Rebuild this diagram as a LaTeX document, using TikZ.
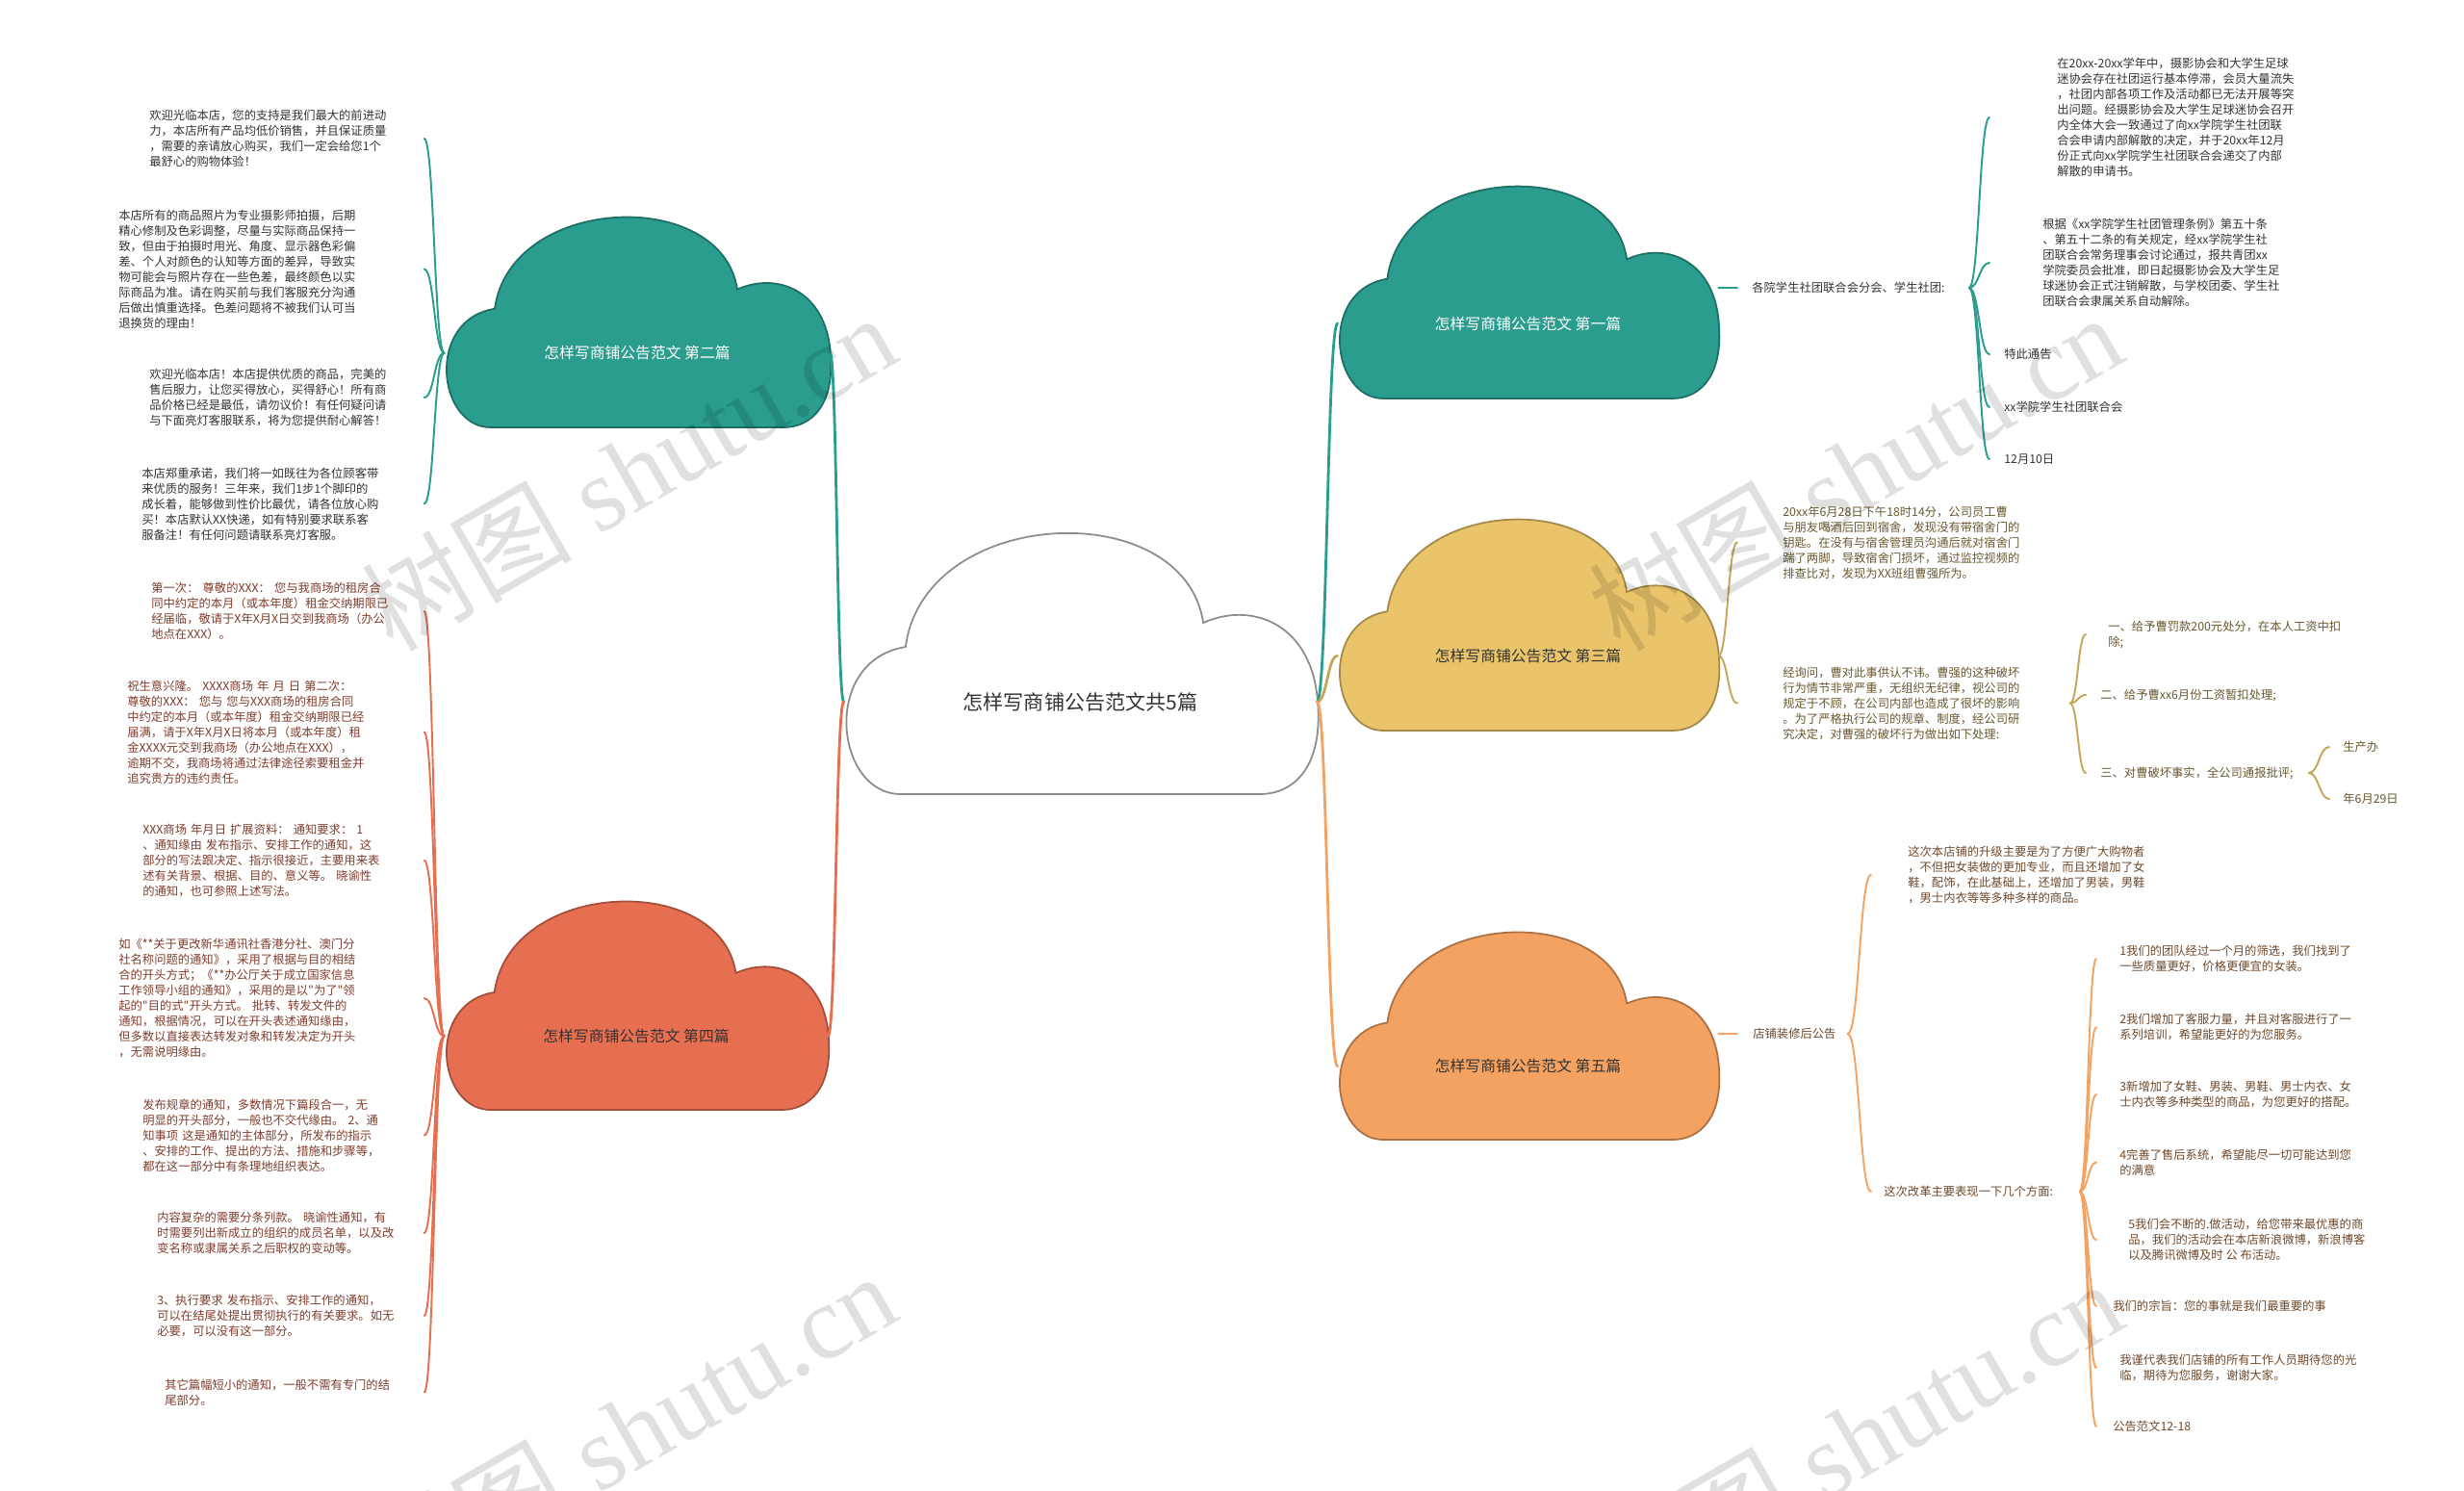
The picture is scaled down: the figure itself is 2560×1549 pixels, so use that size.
\documentclass[tikz,border=0pt]{standalone}
\usepackage{fontspec}
\usepackage{xcolor}
\usetikzlibrary{calc,positioning}
\newfontfamily\cjk{Noto Sans CJK SC}
\newfontfamily\wmfont{Liberation Serif}
\definecolor{sea}{HTML}{2A9D8F}
\definecolor{sand}{HTML}{E9C46A}
\definecolor{peach}{HTML}{F4A261}
\definecolor{brick}{HTML}{E76F51}
\colorlet{ink}{black!80}
\tikzset{
  note/.style={font=\cjk\fontsize{7}{9.1}\selectfont, inner sep=0pt, align=left, anchor=west},
  tag/.style={font=\cjk\fontsize{9}{11}\selectfont, inner sep=0pt},
  twig/.style={line width=1.1pt, line cap=round},
  sea cloud/.style={fill=sea, draw=sea!70!black},
  sand cloud/.style={fill=sand, draw=sand!70!black},
  peach cloud/.style={fill=peach, draw=peach!70!black},
  brick cloud/.style={fill=brick, draw=brick!70!black},
  plain cloud/.style={fill=white, draw=black!45},
  sea tag/.style={tag, text=white},
  sand tag/.style={tag, text=ink},
  peach tag/.style={tag, text=ink},
  brick tag/.style={tag, text=ink},
  plain tag/.style={tag, text=ink, font=\cjk\fontsize{12}{14}\selectfont},
  wmark/.style={text=black, opacity=0.12, rotate=30, inner sep=0pt, font=\wmfont\fontsize{62}{62}\selectfont}
}
% cloud: name, left, top, width, height, kind, text
\newcommand\cloudy[7]{%
  \filldraw[#6 cloud, line width=1pt, shift={(#2,#3)}, xscale=#4, yscale=#5]
    (0.12,1) .. controls (-0.02,1) and (-0.05,0.5) .. (0.13,0.45)
    .. controls (0.17,-0.08) and (0.72,-0.12) .. (0.76,0.36)
    .. controls (0.86,0.28) and (0.98,0.36) .. (1,0.62)
    .. controls (1.02,0.9) and (0.95,1) .. (0.88,1) -- cycle;
  \node[#6 tag, minimum width=#4*0.2mm] (#1) at (#2+#4/2,#3+0.655*#5) {#7};}
% branch: [gap before target] colour, from, to
\newcommand\twig[4][0mm]{%
  \path (#3) coordinate (tw-a) ([xshift=-#1]#4) coordinate (tw-b);
  \draw[twig, #2] (tw-a) .. controls ($(tw-a)!.5!(tw-a -| tw-b)$) and ($(tw-b)!.5!(tw-b -| tw-a)$) .. (tw-b);}

\begin{document}
\begin{tikzpicture}[x=0.2mm, y=-0.2mm]
  \useasboundingbox (0,0) rectangle (2560,1549);
  \fill[white] (0,0) rectangle (2560,1549);

  \cloudy{m}{877}{547}{491}{278}{plain}{怎样写商铺公告范文共5篇}
  \cloudy{c2}{462}{220}{400}{224}{sea}{怎样写商铺公告范文 第二篇}
  \cloudy{c4}{462}{931}{398}{222}{brick}{怎样写商铺公告范文 第四篇}
  \cloudy{c1}{1390}{188}{395}{226}{sea}{怎样写商铺公告范文 第一篇}
  \cloudy{c3}{1390}{534}{395}{225}{sand}{怎样写商铺公告范文 第三篇}
  \cloudy{c5}{1390}{963}{395}{221}{peach}{怎样写商铺公告范文 第五篇}

  \twig{sea, line width=1.6pt}{m.west}{c2.east}
  \twig{brick, line width=1.6pt}{m.west}{c4.east}
  \twig{sea, line width=1.6pt}{m.east}{c1.west}
  \twig{sand!85!black, line width=1.6pt}{m.east}{c3.west}
  \twig{peach, line width=1.6pt}{m.east}{c5.west}

  % second part
  \begin{scope}[every node/.append style={text=ink}]
  \node[note, text width=57mm] (l1) at (155,144) {欢迎光临本店，您的支持是我们最大的前进动\\力，本店所有产品均低价销售，并且保证质量\\，需要的亲请放心购买，我们一定会给您1个\\最舒心的购物体验！};
  \node[note, text width=63.4mm] (l2) at (123,279.5) {本店所有的商品照片为专业摄影师拍摄，后期\\精心修制及色彩调整，尽量与实际商品保持一\\致，但由于拍摄时用光、角度、显示器色彩偏\\差、个人对颜色的认知等方面的差异，导致实\\物可能会与照片存在一些色差，最终颜色以实\\际商品为准。请在购买前与我们客服充分沟通\\后做出慎重选择。色差问题将不被我们认可当\\退换货的理由！};
  \node[note, text width=57mm] (l3) at (155,413) {欢迎光临本店！本店提供优质的商品，完美的\\售后服力，让您买得放心，买得舒心！所有商\\品价格已经是最低，请勿议价！有任何疑问请\\与下面亮灯客服联系，将为您提供耐心解答！};
  \node[note, text width=58.6mm] (l4) at (147,523.5) {本店郑重承诺，我们将一如既往为各位顾客带\\来优质的服务！三年来，我们1步1个脚印的\\成长着，能够做到性价比最优，请各位放心购\\买！本店默认XX快递，如有特别要求联系客\\服备注！有任何问题请联系亮灯客服。};
  \end{scope}
  \foreach \n in {l1,l2,l3,l4} \twig{sea}{c2.west}{\n.east};

  % fourth part
  \begin{scope}[every node/.append style={text=brick!55!black}]
  \node[note, text width=56.6mm] (l5) at (157,635) {第一次： 尊敬的XXX： 您与我商场的租房合\\同中约定的本月（或本年度）租金交纳期限已\\经届临，敬请于X年X月X日交到我商场（办公\\地点在XXX）。};
  \node[note, text width=61.6mm] (l6) at (132,760.5) {祝生意兴隆。 XXXX商场 年 月 日 第二次：\\尊敬的XXX： 您与 您与XXX商场的租房合同\\中约定的本月（或本年度）租金交纳期限已经\\届满，请于X年X月X日将本月（或本年度）租\\金XXXX元交到我商场（办公地点在XXX），\\逾期不交，我商场将通过法律途径索要租金并\\追究贵方的违约责任。};
  \node[note, text width=58.4mm] (l7) at (148,894) {XXX商场 年月日 扩展资料： 通知要求： 1\\、通知缘由 发布指示、安排工作的通知，这\\部分的写法跟决定、指示很接近，主要用来表\\述有关背景、根据、目的、意义等。 晓谕性\\的通知，也可参照上述写法。};
  \node[note, text width=63.4mm] (l8) at (123,1037) {如《**关于更改新华通讯社香港分社、澳门分\\社名称问题的通知》，采用了根据与目的相结\\合的开头方式；《**办公厅关于成立国家信息\\工作领导小组的通知》，采用的是以"为了"领\\起的"目的式"开头方式。 批转、转发文件的\\通知，根据情况，可以在开头表述通知缘由，\\但多数以直接表达转发对象和转发决定为开头\\，无需说明缘由。};
  \node[note, text width=58.4mm] (l9) at (148,1179.5) {发布规章的通知，多数情况下篇段合一，无\\明显的开头部分，一般也不交代缘由。 2、通\\知事项 这是通知的主体部分，所发布的指示\\、安排的工作、提出的方法、措施和步骤等，\\都在这一部分中有条理地组织表达。};
  \node[note, text width=55.4mm] (l10) at (163,1281) {内容复杂的需要分条列款。 晓谕性通知，有\\时需要列出新成立的组织的成员名单，以及改\\变名称或隶属关系之后职权的变动等。};
  \node[note, text width=55.4mm] (l11) at (163,1367) {3、执行要求 发布指示、安排工作的通知，\\可以在结尾处提出贯彻执行的有关要求。如无\\必要，可以没有这一部分。};
  \node[note, text width=53.8mm] (l12) at (171,1446.5) {其它篇幅短小的通知，一般不需有专门的结\\尾部分。};
  \end{scope}
  \foreach \n in {l5,l6,l7,l8,l9,l10,l11,l12} \twig{brick}{c4.west}{\n.east};

  % first part
  \begin{scope}[every node/.append style={text=ink}]
  \node[note, text width=45mm] (t1) at (1820,299) {各院学生社团联合会分会、学生社团:};
  \node[note] (r1) at (2137,122) {在20xx-20xx学年中，摄影协会和大学生足球\\迷协会存在社团运行基本停滞，会员大量流失\\，社团内部各项工作及活动都已无法开展等突\\出问题。经摄影协会及大学生足球迷协会召开\\内全体大会一致通过了向xx学院学生社团联\\合会申请内部解散的决定，并于20xx年12月\\份正式向xx学院学生社团联合会递交了内部\\解散的申请书。};
  \node[note] (r2) at (2122,273) {根据《xx学院学生社团管理条例》第五十条\\、第五十二条的有关规定，经xx学院学生社\\团联合会常务理事会讨论通过，报共青团xx\\学院委员会批准，即日起摄影协会及大学生足\\球迷协会正式注销解散，与学校团委、学生社\\团联合会隶属关系自动解除。};
  \node[note] (r3) at (2082,368) {特此通告};
  \node[note] (r4) at (2082,423) {xx学院学生社团联合会};
  \node[note] (r5) at (2082,477) {12月10日};
  \end{scope}
  \twig[3mm]{sea}{c1.east |- t1.west}{t1.west}
  \twig[14mm]{sea}{t1.east}{r1.west}
  \twig[11mm]{sea}{t1.east}{r2.west}
  \foreach \n in {r3,r4,r5} \twig[3mm]{sea}{t1.east}{\n.west};

  % third part
  \begin{scope}[every node/.append style={text=sand!45!black}]
  \node[note] (y1) at (1852,563.5) {20xx年6月28日下午18时14分，公司员工曹\\与朋友喝酒后回到宿舍，发现没有带宿舍门的\\钥匙。在没有与宿舍管理员沟通后就对宿舍门\\踹了两脚，导致宿舍门损坏，通过监控视频的\\排查比对，发现为XX班组曹强所为。};
  \node[note, text width=59.6mm] (y2) at (1852,730.5) {经询问，曹对此事供认不讳。曹强的这种破坏\\行为情节非常严重，无组织无纪律，视公司的\\规定于不顾，在公司内部也造成了很坏的影响\\。为了严格执行公司的规章、制度，经公司研\\究决定，对曹强的破坏行为做出如下处理:};
  \node[note] (y3) at (2190,659) {一、给予曹罚款200元处分，在本人工资中扣\\除;};
  \node[note] (y4) at (2182,722) {二、给予曹xx6月份工资暂扣处理;};
  \node[note, text width=43.2mm] (y5) at (2182,803) {三、对曹破坏事实，全公司通报批评;};
  \node[note] (y6) at (2434,776) {生产办};
  \node[note] (y7) at (2434,830) {年6月29日};
  \end{scope}
  \foreach \n in {y1,y2} \twig[9.4mm]{sand!85!black}{c3.east}{\n.west};
  \twig[4.6mm]{sand!85!black}{y2.east}{y3.west}
  \foreach \n in {y4,y5} \twig[3mm]{sand!85!black}{y2.east}{\n.west};
  \foreach \n in {y6,y7} \twig[2.8mm]{sand!85!black}{y5.east}{\n.west};

  % fifth part
  \begin{scope}[every node/.append style={text=peach!45!black}]
  \node[note, text width=19.6mm] (t5) at (1821,1074) {店铺装修后公告};
  \node[note] (o1) at (1982,908.5) {这次本店铺的升级主要是为了方便广大购物者\\，不但把女装做的更加专业，而且还增加了女\\鞋，配饰，在此基础上，还增加了男装，男鞋\\，男士内衣等等多种多样的商品。};
  \node[note, text width=40.6mm] (o2) at (1957,1238) {这次改革主要表现一下几个方面:};
  \node[note] (o3) at (2202,996) {1我们的团队经过一个月的筛选，我们找到了\\一些质量更好，价格更便宜的女装。};
  \node[note] (o4) at (2202,1067) {2我们增加了客服力量，并且对客服进行了一\\系列培训，希望能更好的为您服务。};
  \node[note] (o5) at (2202,1137) {3新增加了女鞋、男装、男鞋、男士内衣、女\\士内衣等多种类型的商品，为您更好的搭配。};
  \node[note] (o6) at (2202,1207.5) {4完善了售后系统，希望能尽一切可能达到您\\的满意};
  \node[note] (o7) at (2211,1288) {5我们会不断的.做活动，给您带来最优惠的商\\品，我们的活动会在本店新浪微博，新浪博客\\以及腾讯微博及时 公 布活动。};
  \node[note] (o8) at (2195,1357) {我们的宗旨：您的事就是我们最重要的事};
  \node[note] (o9) at (2202,1421) {我谨代表我们店铺的所有工作人员期待您的光\\临，期待为您服务，谢谢大家。};
  \node[note] (o10) at (2195,1482) {公告范文12-18};
  \end{scope}
  \twig[3.2mm]{peach}{c5.east |- t5.west}{t5.west}
  \twig[7.6mm]{peach}{t5.east}{o1.west}
  \twig[2.6mm]{peach}{t5.east}{o2.west}
  \foreach \n in {o3,o4,o5,o6,o9} \twig[4.8mm]{peach}{o2.east}{\n.west};
  \twig[6.6mm]{peach}{o2.east}{o7.west}
  \foreach \n in {o8,o10} \twig[3.4mm]{peach}{o2.east}{\n.west};

  % watermark
  \begin{scope}
    \clip (0,0) rectangle (2560,1549);
    \foreach \p [count=\i] in {(653,490),(1927,490),(653,1486),(1927,1494)}
      \node[wmark] (wm\i) at \p {{\cjk 树图} shutu.cn};
  \end{scope}
\end{tikzpicture}
\end{document}
